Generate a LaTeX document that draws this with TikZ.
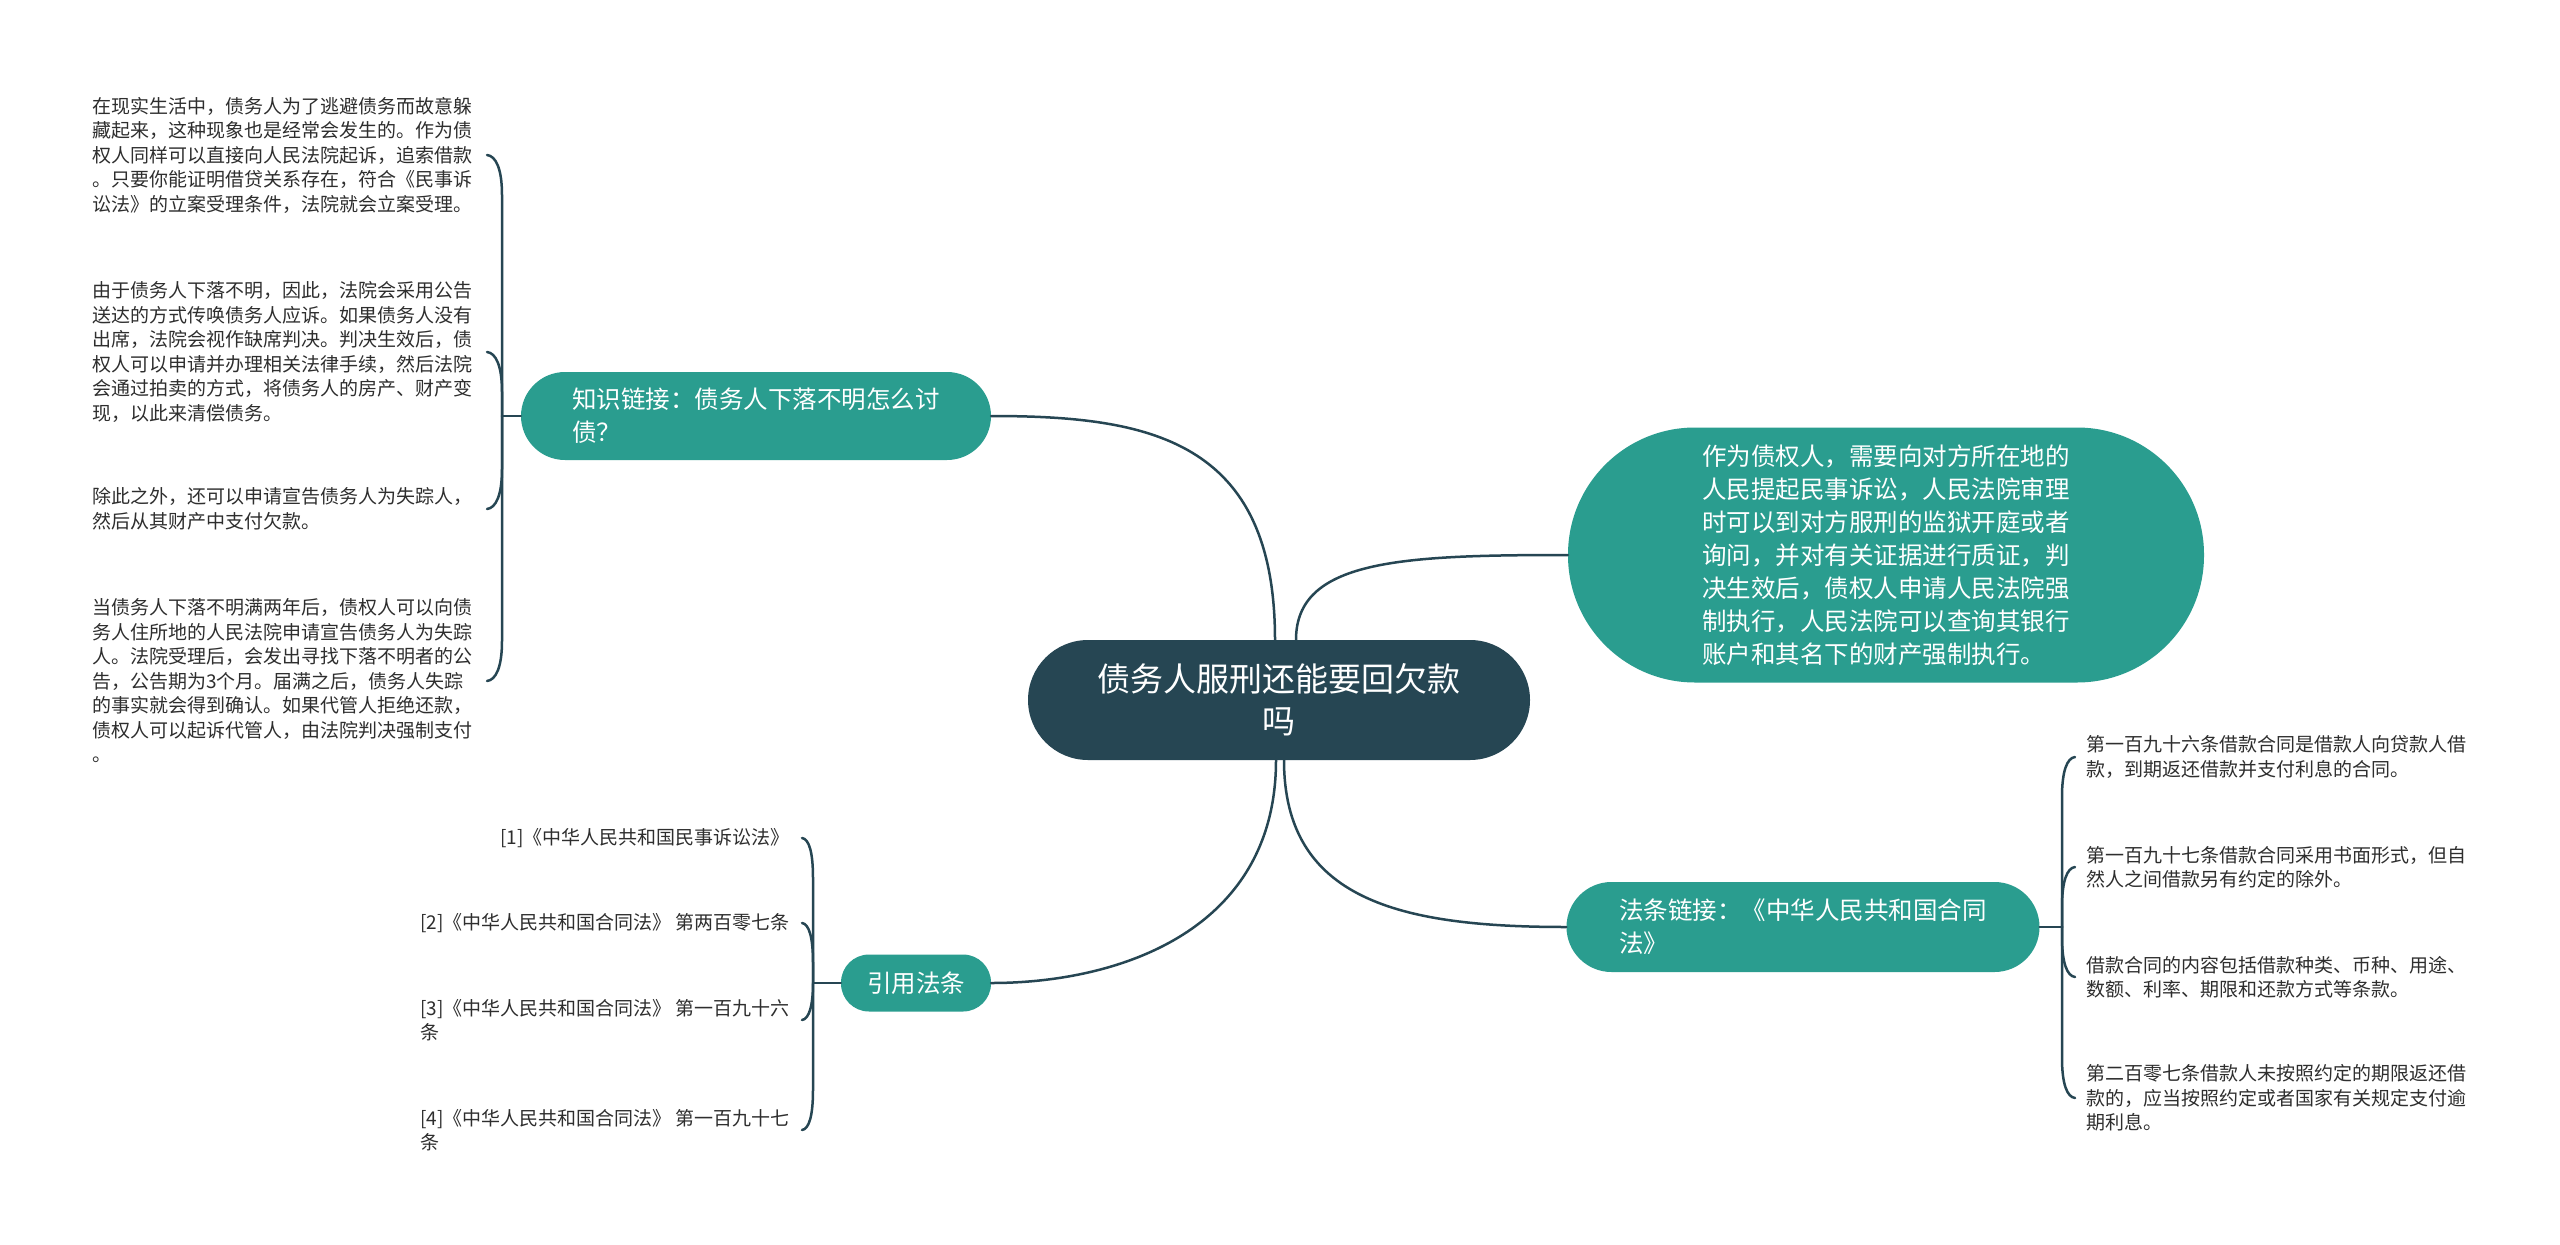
\documentclass[tikz,border=0pt]{standalone}
\usepackage{fontspec}
\setmainfont{Noto Sans CJK SC}
\usetikzlibrary{calc}
\definecolor{tealc}{HTML}{2A9D8F}
\definecolor{darkc}{HTML}{264653}
\definecolor{leaftxt}{HTML}{2E2E2E}
\begin{document}
\begin{tikzpicture}[x=1pt,y=-1pt,
  conn/.style={draw=darkc, line width=2.5pt, line cap=round},
  rootbox/.style={fill=darkc, text=white, rounded corners=60pt, inner sep=0pt, align=center, font=\fontsize{33}{42}\selectfont},
  topic/.style={fill=tealc, text=white, rounded corners=#1, inner sep=0pt, align=left, font=\fontsize{24.5}{33}\selectfont},
  leaf/.style={inner sep=0pt, align=left, text=leaftxt, font=\fontsize{19}{24.5}\selectfont}]
\fill[white] (0,0) rectangle (2560,1245);
\useasboundingbox (0,0) rectangle (2560,1245);

% main nodes
\node[rootbox, minimum width=502pt, minimum height=120pt] (root) at (1279,700) {债务人服刑还能要回欠款\\吗};
\node[topic=44pt, minimum width=470pt, minimum height=88pt] (k) at (756,416) {知识链接：债务人下落不明怎么讨\\债？};
\node[topic=127pt, minimum width=636pt, minimum height=255pt] (r) at (1886,555) {作为债权人，需要向对方所在地的\\人民提起民事诉讼，人民法院审理\\时可以到对方服刑的监狱开庭或者\\询问，并对有关证据进行质证，判\\决生效后，债权人申请人民法院强\\制执行，人民法院可以查询其银行\\账户和其名下的财产强制执行。};
\node[topic=45pt, minimum width=473pt, minimum height=90pt] (fa) at (1803,927) {法条链接：《中华人民共和国合同\\法》};
\node[topic=28pt, minimum width=150pt, minimum height=57pt] (f) at (916,983) {引用法条};

% left leaves
\node[leaf, anchor=west] (l1) at (92,155) {在现实生活中，债务人为了逃避债务而故意躲\\藏起来，这种现象也是经常会发生的。作为债\\权人同样可以直接向人民法院起诉，追索借款\\。只要你能证明借贷关系存在，符合《民事诉\\讼法》的立案受理条件，法院就会立案受理。};
\node[leaf, anchor=west] (l2) at (92,352) {由于债务人下落不明，因此，法院会采用公告\\送达的方式传唤债务人应诉。如果债务人没有\\出席，法院会视作缺席判决。判决生效后，债\\权人可以申请并办理相关法律手续，然后法院\\会通过拍卖的方式，将债务人的房产、财产变\\现，以此来清偿债务。};
\node[leaf, anchor=west] (l3) at (92,509) {除此之外，还可以申请宣告债务人为失踪人，\\然后从其财产中支付欠款。};
\node[leaf, anchor=west] (l4) at (92,681) {当债务人下落不明满两年后，债权人可以向债\\务人住所地的人民法院申请宣告债务人为失踪\\人。法院受理后，会发出寻找下落不明者的公\\告，公告期为3个月。届满之后，债务人失踪\\的事实就会得到确认。如果代管人拒绝还款，\\债权人可以起诉代管人，由法院判决强制支付\\。};

% right leaves
\node[leaf, anchor=west] (r1) at (2086,757) {第一百九十六条借款合同是借款人向贷款人借\\款，到期返还借款并支付利息的合同。};
\node[leaf, anchor=west] (r2) at (2086,867) {第一百九十七条借款合同采用书面形式，但自\\然人之间借款另有约定的除外。};
\node[leaf, anchor=west] (r3) at (2086,977) {借款合同的内容包括借款种类、币种、用途、\\数额、利率、期限和还款方式等条款。};
\node[leaf, anchor=west] (r4) at (2086,1098) {第二百零七条借款人未按照约定的期限返还借\\款的，应当按照约定或者国家有关规定支付逾\\期利息。};

% reference leaves
\node[leaf, anchor=east] (f1) at (790,838) {[1]《中华人民共和国民事诉讼法》};
\node[leaf, anchor=east] (f2) at (790,923) {[2]《中华人民共和国合同法》 第两百零七条};
\node[leaf, anchor=east] (f3) at (790,1020) {[3]《中华人民共和国合同法》 第一百九十六\\条};
\node[leaf, anchor=east] (f4) at (790,1130) {[4]《中华人民共和国合同法》 第一百九十七\\条};

% main connectors
\draw[conn] ([xshift=-4pt]root.north) .. controls (1275,440) and (1150,416) .. (k.east);
\draw[conn] ([xshift=17pt]root.north) .. controls (1296,560) and (1400,555) .. (r.west);
\draw[conn] ([xshift=-3pt]root.south) .. controls (1276,930) and (1120,983) .. (f.east);
\draw[conn] ([xshift=5pt]root.south) .. controls (1284,900) and (1400,927) .. (fa.west);

% bracket junctions
\coordinate (J1) at (502,416);
\coordinate (J2) at (2062,927);
\coordinate (J3) at (813,983);
\coordinate (cx1) at (487,0);
\coordinate (cx2) at (2075,0);
\coordinate (cx3) at (802,0);
\draw[conn] (k.west) -- (J1);
\draw[conn] (fa.east) -- (J2);
\draw[conn] (f.west) -- (J3);

% left bracket
\draw[conn] (J1) -- ($(cx1 |- l1)+(15,40)$) .. controls ($(cx1 |- l1)+(15,14)$) and ($(cx1 |- l1)+(9,1)$) .. (cx1 |- l1);
\draw[conn] (J1) -- ($(cx1 |- l2)+(15,40)$) .. controls ($(cx1 |- l2)+(15,14)$) and ($(cx1 |- l2)+(9,1)$) .. (cx1 |- l2);
\draw[conn] (J1) -- ($(cx1 |- l3)+(15,-40)$) .. controls ($(cx1 |- l3)+(15,-14)$) and ($(cx1 |- l3)+(9,-1)$) .. (cx1 |- l3);
\draw[conn] (J1) -- ($(cx1 |- l4)+(15,-40)$) .. controls ($(cx1 |- l4)+(15,-14)$) and ($(cx1 |- l4)+(9,-1)$) .. (cx1 |- l4);

% right bracket
\draw[conn] (J2) -- ($(cx2 |- r1)+(-13,40)$) .. controls ($(cx2 |- r1)+(-13,14)$) and ($(cx2 |- r1)+(-8,1)$) .. (cx2 |- r1);
\draw[conn] (J2) -- ($(cx2 |- r2)+(-13,40)$) .. controls ($(cx2 |- r2)+(-13,14)$) and ($(cx2 |- r2)+(-8,1)$) .. (cx2 |- r2);
\draw[conn] (J2) -- ($(cx2 |- r3)+(-13,-40)$) .. controls ($(cx2 |- r3)+(-13,-14)$) and ($(cx2 |- r3)+(-8,-1)$) .. (cx2 |- r3);
\draw[conn] (J2) -- ($(cx2 |- r4)+(-13,-40)$) .. controls ($(cx2 |- r4)+(-13,-14)$) and ($(cx2 |- r4)+(-8,-1)$) .. (cx2 |- r4);

% reference bracket
\draw[conn] (J3) -- ($(cx3 |- f1)+(11,40)$) .. controls ($(cx3 |- f1)+(11,14)$) and ($(cx3 |- f1)+(7,1)$) .. (cx3 |- f1);
\draw[conn] (J3) -- ($(cx3 |- f2)+(11,40)$) .. controls ($(cx3 |- f2)+(11,14)$) and ($(cx3 |- f2)+(7,1)$) .. (cx3 |- f2);
\draw[conn] (J3) -- ($(cx3 |- f3)+(11,-37)$) .. controls ($(cx3 |- f3)+(11,-14)$) and ($(cx3 |- f3)+(7,-1)$) .. (cx3 |- f3);
\draw[conn] (J3) -- ($(cx3 |- f4)+(11,-40)$) .. controls ($(cx3 |- f4)+(11,-14)$) and ($(cx3 |- f4)+(7,-1)$) .. (cx3 |- f4);
\end{tikzpicture}
\end{document}
